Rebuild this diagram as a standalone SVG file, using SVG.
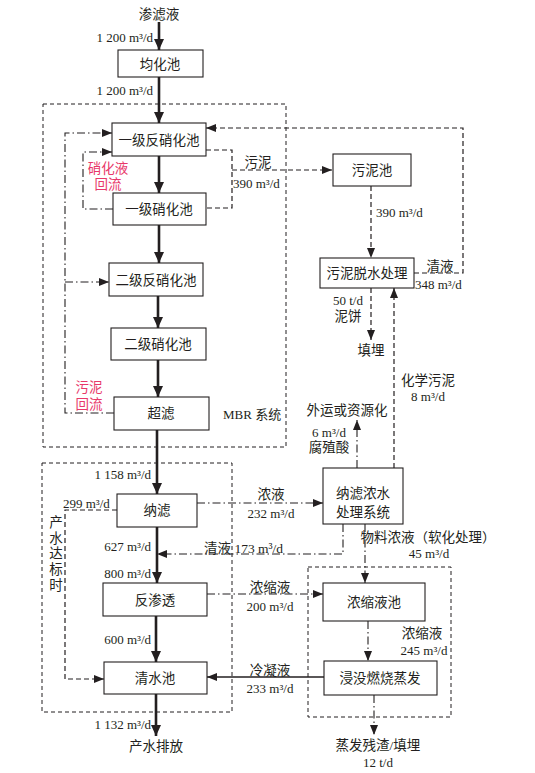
<svg xmlns="http://www.w3.org/2000/svg" width="535" height="773" viewBox="0 0 535 773">
<defs>
<style>
text{font-family:"Liberation Serif","Noto Sans CJK SC",serif;font-size:13px;fill:#231f20;dominant-baseline:central}
.cn{font-size:13.5px}
.m{text-anchor:middle}
.e{text-anchor:end}
.red{fill:#e8386a}
.box{fill:#fff;stroke:#231f20;stroke-width:1.1}
.grp{fill:none;stroke:#231f20;stroke-width:1;stroke-dasharray:4 3}
.main{fill:none;stroke:#231f20;stroke-width:2.6}
.dash{fill:none;stroke:#231f20;stroke-width:1.2;stroke-dasharray:5 3}
.dd{fill:none;stroke:#231f20;stroke-width:1.1;stroke-dasharray:8 3 1.5 3}
.sol{fill:none;stroke:#231f20;stroke-width:1.3}
</style>
<marker id="ah" markerUnits="userSpaceOnUse" markerWidth="11" markerHeight="10" refX="11" refY="5" orient="auto"><path d="M0,0 L11,5 L0,10 z" fill="#231f20"/></marker>
<marker id="at" markerUnits="userSpaceOnUse" markerWidth="10" markerHeight="8" refX="10" refY="4" orient="auto"><path d="M0,0 L10,4 L0,8 z" fill="#231f20"/></marker>
</defs>
<rect width="535" height="773" fill="#fff"/>

<g id="groups">
<rect class="grp" x="43" y="104" width="243" height="343"/>
<rect class="grp" x="42" y="463" width="190" height="249"/>
<rect class="grp" x="308" y="567" width="143" height="150"/>
<text x="223" y="414">MBR 系统</text>
</g>

<g id="connectors">
<path class="main" d="M159,22 V50" marker-end="url(#ah)"/>
<path class="main" d="M159,77 V123" marker-end="url(#ah)"/>
<path class="main" d="M159,156 V193" marker-end="url(#ah)"/>
<path class="main" d="M159,225 V263" marker-end="url(#ah)"/>
<path class="main" d="M158,296 V328" marker-end="url(#ah)"/>
<path class="main" d="M158,360 V397" marker-end="url(#ah)"/>
<path class="main" d="M157,430 V494" marker-end="url(#ah)"/>
<path class="main" d="M157,527 V583" marker-end="url(#ah)"/>
<path class="main" d="M156,616 V662" marker-end="url(#ah)"/>
<path class="main" d="M156,694 V736" marker-end="url(#ah)"/>

<path class="dd" d="M114,413 H65 V133 H112" marker-end="url(#at)"/>
<path class="dd" d="M65,282 H109" marker-end="url(#at)"/>
<path class="dd" d="M113,209 H83 V152 H112" marker-end="url(#at)"/>

<path class="dash" d="M206,150 H232 V208 H206"/>
<path class="dash" d="M232,170 H332" marker-end="url(#at)"/>
<path class="dash" d="M371,186 V258" marker-end="url(#at)"/>
<path class="dash" d="M414,273 H463 V128 H206" marker-end="url(#at)"/>
<path class="dash" d="M371,288 V340" marker-end="url(#at)"/>
<path class="dash" d="M394,468 V288" marker-end="url(#at)"/>
<path class="dd" d="M357,468 V420" marker-end="url(#at)"/>

<path class="dd" d="M197,503 H323" marker-end="url(#at)"/>
<path class="dd" d="M343,524 V554 H157" marker-end="url(#at)"/>
<path class="dd" d="M365,524 V583" marker-end="url(#at)"/>
<path class="dash" d="M117,510 H65 V679 H104" marker-end="url(#at)"/>
<path class="dd" d="M207,594 H323" marker-end="url(#at)"/>
<path class="dd" d="M368,621 V661" marker-end="url(#at)"/>
<path class="sol" d="M324,677 H207" marker-end="url(#at)"/>
<path class="dd" d="M374,695 V735" marker-end="url(#at)"/>
</g>

<g id="labels">
<text class="cn m" x="159" y="14">渗滤液</text>
<text class="e" x="153" y="37">1 200 m³/d</text>
<text class="e" x="153" y="90">1 200 m³/d</text>
<text class="cn m red" x="108" y="168">硝化液</text>
<text class="cn m red" x="108" y="184">回流</text>
<text class="cn m red" x="89" y="387">污泥</text>
<text class="cn m red" x="89" y="404">回流</text>
<text class="cn m" x="258" y="162">污泥</text>
<text x="233" y="183">390 m³/d</text>
<text x="376" y="212">390 m³/d</text>
<text class="cn m" x="440" y="266">清液</text>
<text x="415" y="284">348 m³/d</text>
<text class="m" x="348" y="300">50 t/d</text>
<text class="cn m" x="348" y="316">泥饼</text>
<text class="cn m" x="371" y="350">填埋</text>
<text class="cn m" x="428" y="380">化学污泥</text>
<text class="m" x="428" y="396">8 m³/d</text>
<text class="cn m" x="347" y="410">外运或资源化</text>
<text class="m" x="329" y="432">6 m³/d</text>
<text class="cn m" x="329" y="447">腐殖酸</text>
<text class="e" x="151" y="474">1 158 m³/d</text>
<text x="63" y="503">299 m³/d</text>
<text class="cn m" x="56" y="522">产</text>
<text class="cn m" x="56" y="538">水</text>
<text class="cn m" x="56" y="553">达</text>
<text class="cn m" x="56" y="569">标</text>
<text class="cn m" x="56" y="585">时</text>
<text class="e" x="151" y="546">627 m³/d</text>
<text class="e" x="151" y="573">800 m³/d</text>
<text class="cn m" x="271" y="494">浓液</text>
<text class="m" x="271" y="513">232 m³/d</text>
<text class="cn" x="204" y="548">清液 <tspan font-family="Liberation Serif">173 m³/d</tspan></text>
<text class="cn m" x="428" y="537">物料浓液（软化处理）</text>
<text class="m" x="429" y="553">45 m³/d</text>
<text class="cn m" x="270" y="587">浓缩液</text>
<text class="m" x="270" y="606">200 m³/d</text>
<text class="e" x="151" y="639">600 m³/d</text>
<text class="cn m" x="422" y="633">浓缩液</text>
<text class="m" x="424" y="650">245 m³/d</text>
<text class="cn m" x="270" y="670">冷凝液</text>
<text class="m" x="270" y="688">233 m³/d</text>
<text class="e" x="151" y="724">1 132 m³/d</text>
<text class="cn m" x="156" y="746">产水排放</text>
<text class="cn m" x="378" y="745">蒸发残渣/填埋</text>
<text class="m" x="378" y="762">12 t/d</text>
</g>

<g id="n-junhua"><rect class="box" x="118" y="50" width="85" height="27"/><text class="cn m" x="160" y="64">均化池</text></g>
<g id="n-fanxiao1"><rect class="box" x="112" y="123" width="94" height="33"/><text class="cn m" x="159" y="140">一级反硝化池</text></g>
<g id="n-xiao1"><rect class="box" x="113" y="193" width="93" height="32"/><text class="cn m" x="159" y="209">一级硝化池</text></g>
<g id="n-fanxiao2"><rect class="box" x="109" y="263" width="94" height="33"/><text class="cn m" x="156" y="280">二级反硝化池</text></g>
<g id="n-xiao2"><rect class="box" x="111" y="328" width="95" height="32"/><text class="cn m" x="158" y="344">二级硝化池</text></g>
<g id="n-chaolv"><rect class="box" x="114" y="397" width="95" height="33"/><text class="cn m" x="161" y="413">超滤</text></g>
<g id="n-wunichi"><rect class="box" x="333" y="154" width="78" height="32"/><text class="cn m" x="372" y="170">污泥池</text></g>
<g id="n-tuoshui"><rect class="box" x="320" y="258" width="94" height="30"/><text class="cn m" x="367" y="273">污泥脱水处理</text></g>
<g id="n-nfconc"><rect class="box" x="323" y="468" width="80" height="56"/><text class="cn m" x="363" y="493">纳滤浓水</text><text class="cn m" x="363" y="512">处理系统</text></g>
<g id="n-nalv"><rect class="box" x="117" y="494" width="80" height="33"/><text class="cn m" x="157" y="510">纳滤</text></g>
<g id="n-ro"><rect class="box" x="103" y="583" width="104" height="33"/><text class="cn m" x="155" y="600">反渗透</text></g>
<g id="n-nongsuo"><rect class="box" x="323" y="583" width="102" height="38"/><text class="cn m" x="374" y="602">浓缩液池</text></g>
<g id="n-qingshui"><rect class="box" x="104" y="662" width="103" height="32"/><text class="cn m" x="155" y="678">清水池</text></g>
<g id="n-zhengfa"><rect class="box" x="324" y="661" width="113" height="34"/><text class="cn m" x="380" y="678">浸没燃烧蒸发</text></g>
</svg>
